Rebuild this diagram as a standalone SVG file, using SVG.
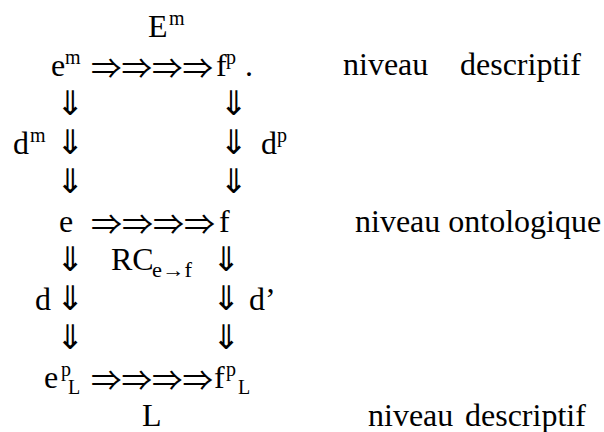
<svg xmlns="http://www.w3.org/2000/svg" width="604" height="432" viewBox="0 0 604 432">
<style>
text{font-family:"Liberation Serif","Times New Roman",serif;font-size:32px;fill:#000}
.s{font-size:20px}
.h{font-family:"Noto Sans CJK JP","DejaVu Sans",sans-serif;font-size:28px}
.v{font-family:"DejaVu Sans",sans-serif;font-size:34px;text-anchor:middle}
</style>
<rect width="604" height="432" fill="#fff"/>
<g id="Em"><text x="148" y="37">E</text><text class="s" x="169" y="25">m</text></g>
<g id="em"><text x="51" y="76">e</text><text class="s" x="65" y="64">m</text></g>
<g id="fp"><text x="216" y="76">f</text><text class="s" x="226" y="64">p</text><text x="245" y="76">.</text></g>
<g id="dm"><text x="13" y="154">d</text><text class="s" x="30" y="142">m</text></g>
<g id="dp"><text x="261" y="154">d</text><text class="s" x="277" y="142">p</text></g>
<g id="e"><text x="59" y="232">e</text></g>
<g id="f"><text x="219" y="232">f</text></g>
<g id="rc"><text x="111" y="270">RC</text><text class="s" x="152" y="277" textLength="40" lengthAdjust="spacingAndGlyphs">e→f</text></g>
<g id="d"><text x="35" y="310">d</text></g>
<g id="dprime"><text x="249" y="310">d’</text></g>
<g id="epL"><text x="44" y="388">e</text><text class="s" x="61" y="376">p</text><text class="s" x="68" y="394">L</text></g>
<g id="fpL"><text x="214" y="388">f</text><text class="s" x="226" y="376">p</text><text class="s" x="238" y="394">L</text></g>
<g id="L"><text x="142" y="426">L</text></g>
<g id="levels">
<text x="343" y="75">niveau</text><text x="460" y="75">descriptif</text>
<text x="355" y="232">niveau ontologique</text>
<text x="368" y="426">niveau</text><text x="465" y="426">descriptif</text>
</g>
<g id="connectors">
<text class="h" x="91" y="79" textLength="122" lengthAdjust="spacingAndGlyphs">⇒⇒⇒⇒</text>
<text class="h" x="91" y="235" textLength="124" lengthAdjust="spacingAndGlyphs">⇒⇒⇒⇒</text>
<text class="h" x="91" y="391" textLength="122" lengthAdjust="spacingAndGlyphs">⇒⇒⇒⇒</text>
<text class="v" x="70" y="115">⇓</text>
<text class="v" x="70" y="154">⇓</text>
<text class="v" x="70" y="193">⇓</text>
<text class="v" x="70" y="271">⇓</text>
<text class="v" x="70" y="310">⇓</text>
<text class="v" x="70" y="349">⇓</text>
<text class="v" x="233.5" y="115">⇓</text>
<text class="v" x="233.5" y="154">⇓</text>
<text class="v" x="233.5" y="193">⇓</text>
<text class="v" x="226" y="271">⇓</text>
<text class="v" x="226" y="310">⇓</text>
<text class="v" x="226" y="349">⇓</text>
</g>
</svg>
